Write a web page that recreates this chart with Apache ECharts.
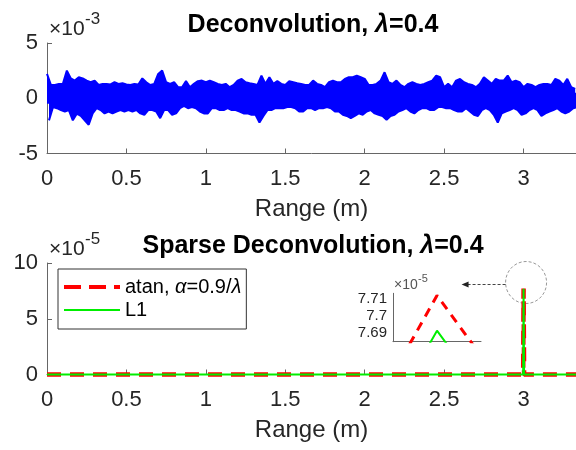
<!DOCTYPE html>
<html><head><meta charset="utf-8">
<script src="https://cdn.jsdelivr.net/npm/echarts@6/dist/echarts.min.js"></script>
<style>html,body{margin:0;padding:0;background:#fff}#c{width:576px;height:450px}</style>
</head><body><div id="c"></div>
<script>
// ---- data ----
// Top panel: local upper / lower extremes of the deconvolved signal, every 0.025 m (units of 1e-3)
const rangeStep = 0.025;
const deconvUpper = [
 2.2,1.2,1.2,1.3,1.3,2.5,1.8,1.6,1.9,1.8,1.6,1.45,1.6,1.2,1.3,1.3,1.25,1.45,1.3,1.35,1.25,1.2,1.3,1.25,1.8,1.45,1.2,1.3,2.2,2.5,1.45,1.3,1.45,1.0,
 1.0,1.55,1.0,1.3,1.55,1.6,1.45,1.6,1.45,1.3,1.2,1.3,1.0,1.2,1.6,1.75,1.45,1.35,1.3,1.2,2.05,1.3,1.9,1.3,1.55,1.3,1.2,1.55,1.45,1.35,1.3,1.2,1.2,
 1.6,1.3,1.2,1.0,1.45,1.6,1.45,1.45,1.75,1.9,1.9,2.05,1.9,1.75,1.2,1.2,1.3,1.6,2.35,1.45,1.3,1.6,1.2,1.0,1.3,1.45,1.3,1.2,1.3,1.45,1.6,2.05,1.9,
 1.0,1.3,1.0,1.6,1.75,1.45,1.3,1.2,1.0,1.3,1.9,1.6,1.3,1.75,1.6,1.6,2.05,1.45,1.6,1.45,1.0,1.3,1.2,1.0,1.2,1.3,1.3,1.2,1.75,1.6,1.2,1.75,1.0,0.85
];
const deconvLower = [
 -2.0,-0.8,-0.9,-1.07,-1.2,-1.07,-2.0,-1.4,-1.6,-2.0,-2.4,-1.37,-0.9,-1.07,-1.37,-1.2,-1.37,-1.2,-1.07,-1.2,-1.07,-1.2,-1.07,-1.37,-1.5,-1.07,-1.07,-1.2,-1.8,-1.07,-1.07,-1.5,-1.37,-0.9,
 -0.7,-0.9,-0.8,-0.9,-1.2,-1.37,-1.37,-0.9,-0.9,-1.07,-1.07,-0.9,-1.07,-1.07,-1.2,-1.37,-1.37,-1.5,-1.5,-2.2,-1.6,-1.07,-1.07,-0.9,-0.9,-0.9,-0.8,-0.8,-0.9,-1.2,-1.2,-0.9,-0.9,
 -1.07,-0.9,-0.9,-0.8,-0.9,-1.2,-1.2,-1.5,-1.6,-1.8,-1.6,-1.37,-1.5,-1.2,-1.07,-1.37,-1.5,-1.6,-1.96,-1.6,-1.5,-1.2,-1.07,-0.9,-1.2,-1.37,-1.07,-0.9,-0.9,-1.07,-1.07,-0.8,-0.8,
 -0.9,-0.9,-1.07,-1.2,-1.2,-0.9,-1.2,-1.5,-1.6,-1.07,-0.9,-1.07,-1.5,-2.2,-1.37,-1.2,-1.07,-0.9,-1.07,-1.5,-1.37,-1.07,-0.9,-1.07,-1.6,-1.37,-1.2,-1.07,-0.9,-1.2,-1.37,-1.2,-0.9,-0.8
];
// Bottom panel: sparse deconvolution (units of 1e-5)
const sparseRange = [0, 2.9975, 3.0, 3.00325, 3.33];
const atanValues  = [0, 0, 7.7122, 0, 0];
const l1Values    = [0, 0, 7.6915, 0, 0];
const seriesNames = ['atan, α=0.9/λ', 'L1'];
const rangeTicks = [0, 0.5, 1, 1.5, 2, 2.5, 3];
const topYTicks = [-5, 0, 5];
const bottomYTicks = [0, 5, 10];
const insetYTicks = [7.69, 7.70, 7.71];

// ---- build ----
const upperData = deconvUpper.map((u, i) => [i * rangeStep, u]);
const lowerData = deconvLower.map((l, i) => [i * rangeStep + rangeStep / 2, l]);
const zip = (xs, ys) => xs.map((x, i) => [x, ys[i]]);

const FONT = 'Liberation Sans, Arial, Helvetica, sans-serif';
const AX = '#262626';
const AXLINE = '#666';
const xMax = 3.33;
const BLUE = '#0000ff', RED = '#ff0000', GREEN = '#00ee00';

function rangeAxis(gridIndex) {
  return {
    type: 'value', gridIndex, min: 0, max: xMax, interval: 0.5,
    name: 'Range (m)', nameLocation: 'middle', nameGap: 44,
    nameTextStyle: { fontSize: 24, color: AX, fontFamily: FONT },
    axisLine: { show: true, onZero: false, lineStyle: { color: AXLINE, width: 1 } },
    axisTick: { show: true, inside: true, length: 5, lineStyle: { color: AXLINE } },
    axisLabel: { fontSize: 22, color: AX, fontFamily: FONT, margin: 14,
      showMaxLabel: false,
      formatter: v => rangeTicks.some(t => Math.abs(t - v) < 1e-9) ? String(v) : '' },
    splitLine: { show: false }
  };
}
function valAxis(gridIndex, ticks) {
  return {
    type: 'value', gridIndex, min: ticks[0], max: ticks[ticks.length - 1], interval: ticks[1] - ticks[0],
    axisLine: { show: true, onZero: false, lineStyle: { color: AXLINE, width: 1 } },
    axisTick: { show: true, inside: true, length: 5, lineStyle: { color: AXLINE } },
    axisLabel: { fontSize: 22, color: AX, fontFamily: FONT, margin: 9 },
    splitLine: { show: false }
  };
}
const titleStyle = { fontSize: 25, fontWeight: 'bold', color: '#000', fontFamily: FONT,
  rich: { g: { fontSize: 25, fontStyle: 'italic', fontWeight: 'bold', color: '#000', fontFamily: FONT } } };

const chart = echarts.init(document.getElementById('c'), null, { renderer: 'canvas' });
const option = {
  animation: false,
  backgroundColor: '#fff',
  title: [
    { text: 'Deconvolution, {g|λ}=0.4', left: 308, top: 8, textAlign: 'center', textStyle: titleStyle },
    { text: 'Sparse Deconvolution, {g|λ}=0.4', left: 308, top: 229, textAlign: 'center', textStyle: titleStyle }
  ],
  legend: {
    left: 58, top: 269, orient: 'vertical', selectedMode: false,
    data: [
      { name: seriesNames[0], lineStyle: { color: RED, width: 4, type: [17, 8] } },
      { name: seriesNames[1], lineStyle: { color: GREEN, width: 2 } }
    ],
    itemWidth: 56, itemHeight: 14, itemGap: 3, padding: [8, 5, 9, 4],
    itemStyle: { opacity: 0 },
    borderColor: '#333', borderWidth: 1, backgroundColor: '#fff',
    formatter: n => n.replace(/([αλ])/g, '{g|$1}'),
    textStyle: { fontSize: 20, color: '#000', fontFamily: FONT,
      rich: { g: { fontSize: 20, fontStyle: 'italic', color: '#000', fontFamily: FONT } } }
  },
  grid: [
    { left: 47, top: 43, right: 0, height: 110.5 },
    { left: 47, top: 263, right: 0, height: 111.5 },
    { left: 393, top: 293.3, width: 88, height: 48.4 }
  ],
  xAxis: [
    rangeAxis(0),
    rangeAxis(1),
    { type: 'value', gridIndex: 2, min: 3.0 - 1.4925e-5, max: 3.0 + 1.4925e-5,
      axisLine: { show: true, onZero: false, lineStyle: { color: AXLINE, width: 1 } },
      axisTick: { show: false }, axisLabel: { show: false }, splitLine: { show: false } }
  ],
  yAxis: [
    valAxis(0, topYTicks),
    valAxis(1, bottomYTicks),
    { type: 'value', gridIndex: 2, min: 7.685, max: 7.7135, interval: 0.005,
      axisLine: { show: true, onZero: false, lineStyle: { color: AXLINE, width: 1 } },
      axisTick: { show: false }, splitLine: { show: false },
      axisLabel: { fontSize: 15, color: AX, fontFamily: FONT, margin: 6, showMaxLabel: false, showMinLabel: false,
        formatter: v => { const r = insetYTicks.find(t => Math.abs(t - v) < 1e-6); return r === undefined ? '' : String(r); } } }
  ],
  series: [
    { type: 'line', name: 'deconv upper', xAxisIndex: 0, yAxisIndex: 0, data: upperData,
      symbol: 'none', lineStyle: { color: BLUE, width: 2 }, areaStyle: { color: BLUE, opacity: 1, origin: -0.5 }, clip: true },
    { type: 'line', name: 'deconv lower', xAxisIndex: 0, yAxisIndex: 0, data: lowerData,
      symbol: 'none', lineStyle: { color: BLUE, width: 2 }, areaStyle: { color: BLUE, opacity: 1, origin: 0.5 }, clip: true },
    { type: 'line', name: seriesNames[0], xAxisIndex: 1, yAxisIndex: 1, data: zip(sparseRange, atanValues),
      symbol: 'none', color: RED, lineStyle: { color: RED, width: 4.5, type: [14, 9] }, clip: false },
    { type: 'line', name: seriesNames[1], xAxisIndex: 1, yAxisIndex: 1, data: zip(sparseRange, l1Values),
      symbol: 'none', color: GREEN, lineStyle: { color: GREEN, width: 2 }, clip: false },
    { type: 'line', name: seriesNames[0], xAxisIndex: 2, yAxisIndex: 2, data: zip(sparseRange, atanValues),
      symbol: 'none', lineStyle: { color: RED, width: 3, type: [9, 7] }, clip: true },
    { type: 'line', name: seriesNames[1], xAxisIndex: 2, yAxisIndex: 2, data: zip(sparseRange, l1Values),
      symbol: 'none', lineStyle: { color: GREEN, width: 2 }, clip: true }
  ]
};
chart.setOption(option);

// exponent labels and annotation (anchored to the peak)
const peak = chart.convertToPixel({ gridIndex: 1 }, [sparseRange[2], atanValues[2]]);
const insetTop = chart.convertToPixel({ gridIndex: 2 }, [3.0 - 1.4925e-5, 7.7135]);
const expText = (x, y, exp, fs, fsExp, color) => ([
  { type: 'text', x, y, style: { text: '×10', font: fs + 'px ' + FONT, fill: color, verticalAlign: 'middle' } },
  { type: 'text', x: x + fs * 1.72, y: y - fs * 0.45, style: { text: exp, font: fsExp + 'px ' + FONT, fill: color, verticalAlign: 'middle' } }
]);
chart.setOption({
  graphic: [].concat(
    expText(49, 29, '-3', 21, 17, AX),
    expText(49, 249, '-5', 21, 17, AX),
    expText(insetTop[0] + 1, insetTop[1] - 8, '-5', 14, 11, '#555'),
    [
      { type: 'ellipse', shape: { cx: peak[0] + 2.5, cy: peak[1] - 6, rx: 20.5, ry: 21 },
        style: { fill: 'none', stroke: '#999', lineWidth: 1, lineDash: [3, 2] } },
      { type: 'line', shape: { x1: peak[0] - 18, y1: peak[1] - 4, x2: peak[0] - 56, y2: peak[1] - 4 },
        style: { stroke: '#444', lineWidth: 1, lineDash: [3, 2] } },
      { type: 'polygon', shape: { points: [[peak[0] - 62, peak[1] - 4], [peak[0] - 55, peak[1] - 7], [peak[0] - 55, peak[1] - 1]] },
        style: { fill: '#222' } }
    ]
  )
});
</script></body></html>
